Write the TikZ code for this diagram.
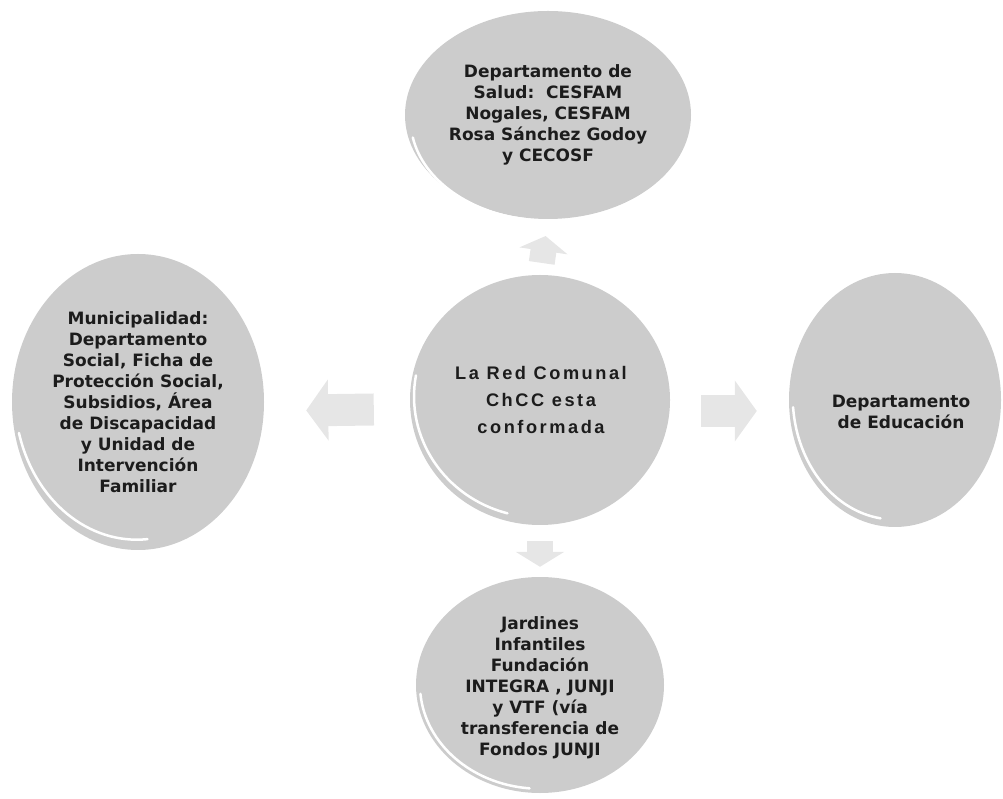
\documentclass[tikz,border=0pt]{standalone}
\usepackage{fontspec}
\usetikzlibrary{arrows.meta,shapes.geometric}
\newfontfamily\satfont{DejaVu Sans}
\newfontfamily\cenfont[LetterSpace=14]{Liberation Sans}
\definecolor{blobgray}{RGB}{204,204,204}
\definecolor{arrowgray}{RGB}{230,230,230}
\definecolor{txt}{RGB}{28,28,28}
\tikzset{
  blob/.style={ellipse, fill=blobgray, draw=none, inner sep=0pt},
  sattext/.style={align=center, text=txt, inner sep=0pt,
    font=\satfont\bfseries\fontsize{17}{21}\selectfont},
  centext/.style={align=center, text=txt, inner sep=0pt,
    font=\cenfont\bfseries\fontsize{18.2}{27}\selectfont},
  varrow/.style={draw=arrowgray, line width=26pt,
    -{Triangle[width=48pt,length=15pt]}, arrowgray},
  harrow/.style={draw=arrowgray, line width=32pt,
    -{Triangle[width=60pt,length=22pt]}, arrowgray},
  rim/.style={draw=white, line width=2.5pt, line cap=round}
}
\begin{document}
\begin{tikzpicture}[x=1pt,y=1pt]
\useasboundingbox (0,0) rectangle (1003,798);
% shapes (y = 798 - pixel row)
\node[blob, minimum width=286pt, minimum height=208pt] (top) at (548,683) {};
\node[blob, minimum width=260pt, minimum height=250pt] (c) at (540,398) {};
\node[blob, minimum width=252pt, minimum height=296pt] (l) at (138,396) {};
\node[blob, minimum width=212pt, minimum height=254pt] (r) at (895,398) {};
\node[blob, minimum width=248pt, minimum height=216pt] (b) at (540,113) {};
% rim highlights (lower-left)
\draw[rim] ([shift={(4pt,2pt)}]top.190) arc[start angle=190, end angle=262, x radius=139pt, y radius=101pt];
\draw[rim] ([shift={(4pt,2pt)}]c.170) arc[start angle=170, end angle=255, x radius=126pt, y radius=121pt];
\draw[rim] ([shift={(4pt,2pt)}]l.195) arc[start angle=195, end angle=275, x radius=122pt, y radius=144pt];
\draw[rim] ([shift={(4pt,2pt)}]r.185) arc[start angle=185, end angle=262, x radius=102pt, y radius=123pt];
\draw[rim] ([shift={(4pt,2pt)}]b.185) arc[start angle=185, end angle=265, x radius=120pt, y radius=104pt];
% texts
\node[sattext] (toptext) at (548,683)
  {Departamento de\\Salud:\ \ CESFAM\\Nogales, CESFAM\\Rosa Sánchez Godoy\\y CECOSF};
\node[centext] (ctext) at (541,398) {La Red Comunal\\ChCC esta\\conformada};
\node[sattext] (ltext) at (138,396)
  {Municipalidad:\\Departamento\\Social, Ficha de\\Protección Social,\\Subsidios, Área\\de Discapacidad\\y Unidad de\\Intervención\\Familiar};
\node[sattext] (rtext) at (901,386) {Departamento\\de Educación};
\node[sattext] (btext) at (540,110)
  {Jardines\\Infantiles\\Fundación\\INTEGRA , JUNJI\\y VTF (vía\\transferencia de\\Fondos JUNJI};
% block arrows from the centre
\draw[varrow, shorten <=12pt, shorten >=17pt] (c.north) -- (top.south);
\draw[varrow, shorten <=16pt, shorten >=10pt] (c.south) -- (b.north);
\draw[harrow, shorten <=36pt, shorten >=42pt] ([yshift=-9pt]c.west) -- ([yshift=-9pt]l.east);
\draw[harrow, shorten <=31pt, shorten >=32pt] ([yshift=-11pt]c.east) -- ([yshift=-11pt]r.west);
\end{tikzpicture}
\end{document}
